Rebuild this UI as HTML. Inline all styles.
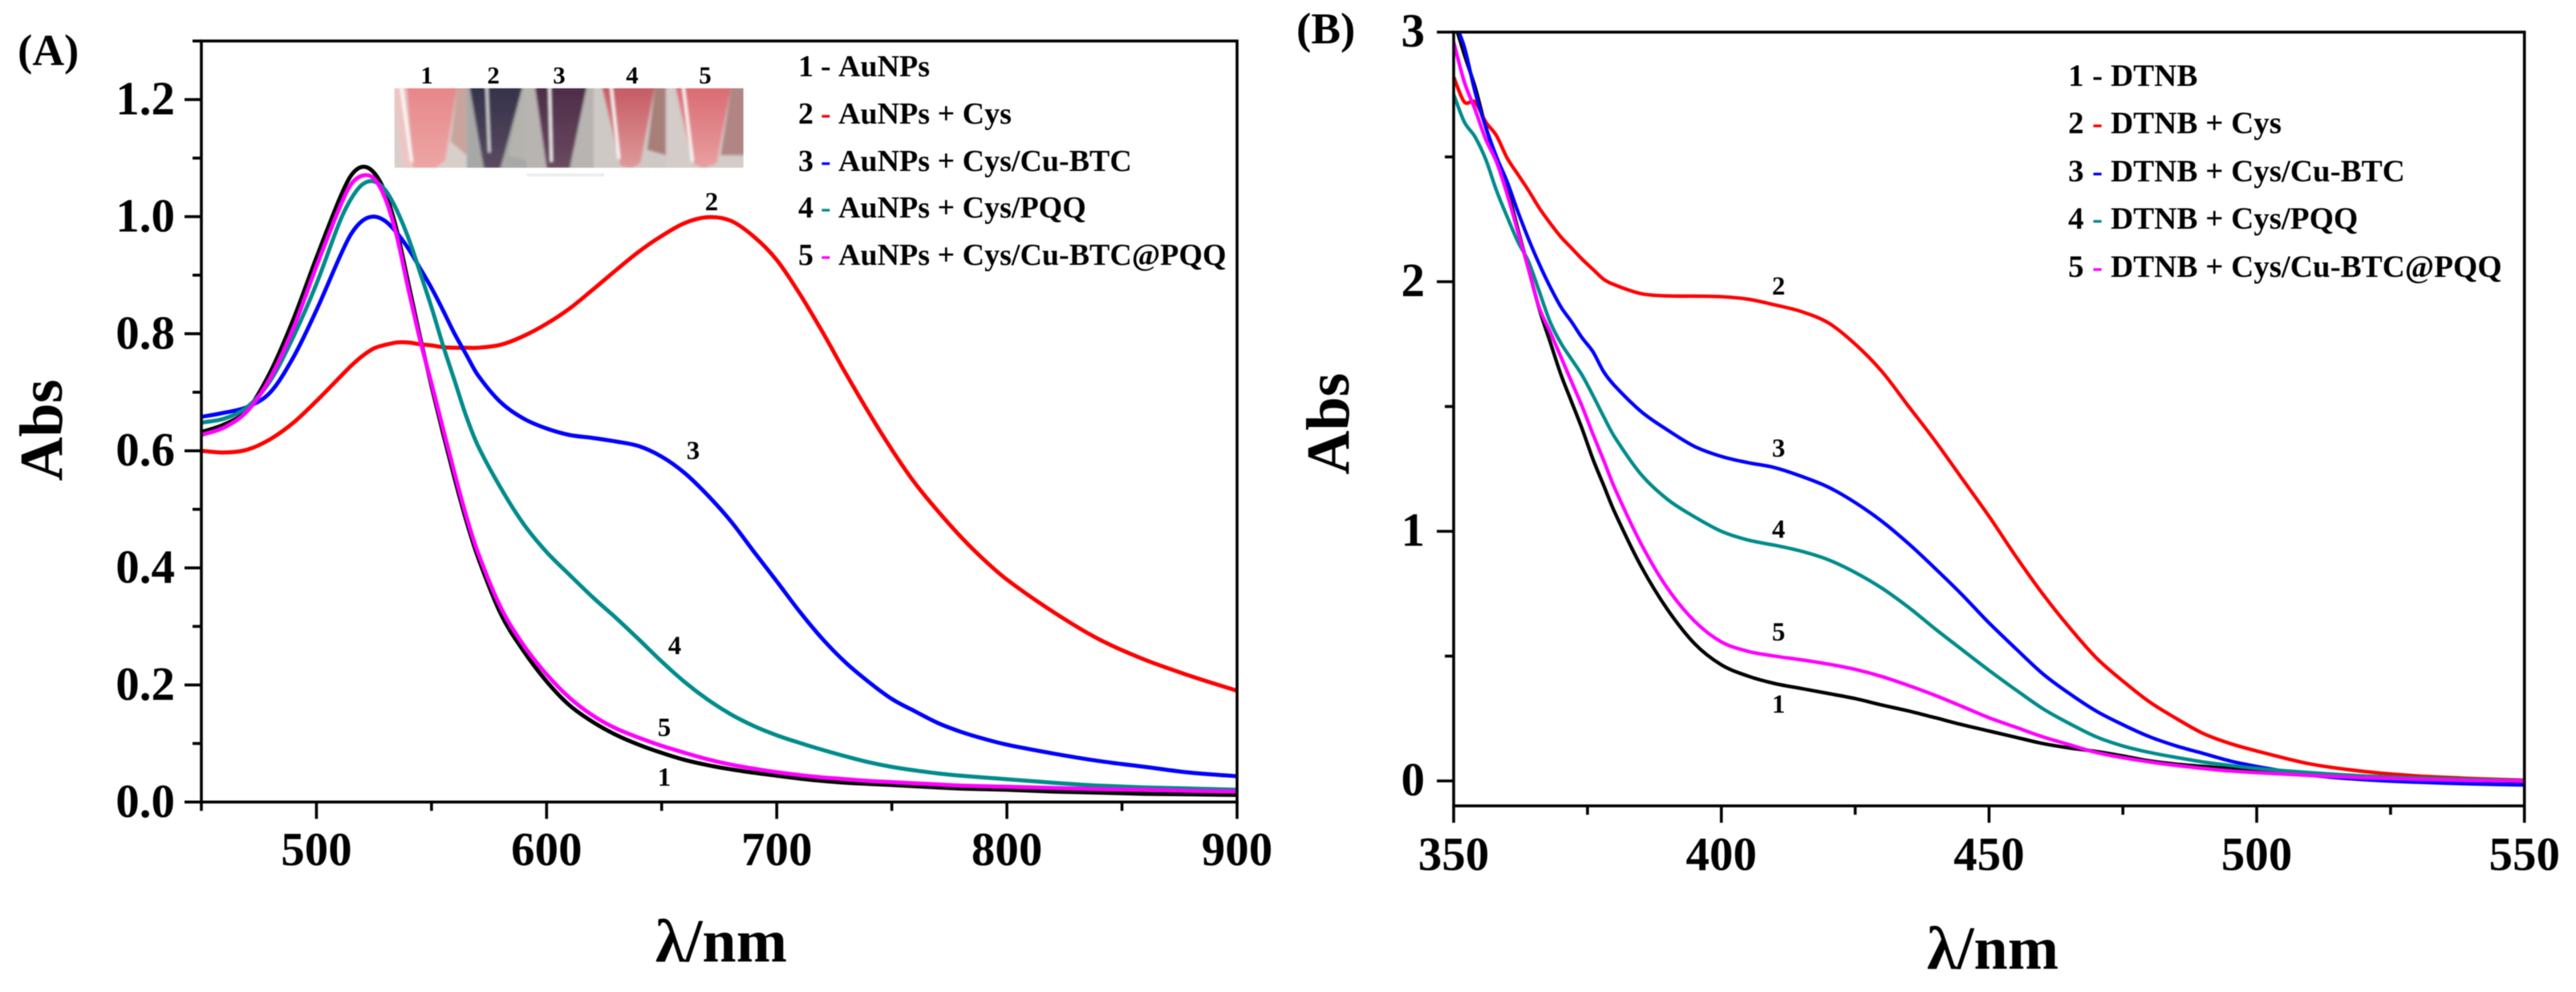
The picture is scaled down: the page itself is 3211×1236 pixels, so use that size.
<!DOCTYPE html>
<html lang="en">
<head>
<meta charset="utf-8">
<title>UV-vis absorption spectra</title>
<style>
html,body{margin:0;padding:0;background:#fff;}
body{width:3211px;height:1236px;overflow:hidden;}
svg{display:block;filter:blur(0.6px);}
text{font-family:"Liberation Serif",serif;font-weight:bold;fill:#000;}
.leg-a{font-size:38px;}
.leg-b{font-size:39px;}
.cl{font-size:33px;text-anchor:middle;}
.title{font-size:76px;}
.panel{font-size:55px;}
.tube{font-size:31px;text-anchor:middle;}
</style>
</head>
<body>
<svg id="chart" xmlns="http://www.w3.org/2000/svg" width="3211" height="1236" viewBox="0 0 3211 1236">
  <defs>
    <clipPath id="clipA"><rect x="251" y="51.7" width="1291" height="947.6"/></clipPath>
    <clipPath id="clipB"><rect x="1812" y="40" width="1334.7" height="964.3"/></clipPath>
    <clipPath id="clipInset"><rect x="155" y="150" width="1305" height="297"/></clipPath>
    <filter id="soft"><feGaussianBlur stdDeviation="5"/></filter>
    <linearGradient id="g1" x1="0" y1="0" x2="0" y2="1"><stop offset="0" stop-color="#e6868a"/><stop offset="1" stop-color="#eda6a4"/></linearGradient>
    <linearGradient id="g2" x1="0" y1="0" x2="0" y2="1"><stop offset="0" stop-color="#33324a"/><stop offset="1" stop-color="#5a4a60"/></linearGradient>
    <linearGradient id="g3" x1="0" y1="0" x2="0" y2="1"><stop offset="0" stop-color="#4d2c48"/><stop offset="1" stop-color="#6a4a60"/></linearGradient>
    <linearGradient id="g4" x1="0" y1="0" x2="0" y2="1"><stop offset="0" stop-color="#c45a63"/><stop offset="1" stop-color="#e09a9a"/></linearGradient>
    <linearGradient id="g5" x1="0" y1="0" x2="0" y2="1"><stop offset="0" stop-color="#d96a72"/><stop offset="1" stop-color="#e8a0a0"/></linearGradient>
  </defs>

  <g id="panelA">
    <text class="panel" x="22" y="81">(A)</text>
    <text class="title" text-anchor="middle" transform="translate(77 536) rotate(-90)">Abs</text>
    <text class="title" x="899" y="1198" text-anchor="middle">λ/nm</text>

    <g id="inset" transform="translate(440 60) scale(0.33333)">
      <g clip-path="url(#clipInset)">
      <g filter="url(#soft)">
        <g>
          <rect x="145" y="140" width="280" height="317" fill="#d9cfca"/>
          <polygon points="145,140 195,140 225,457 190,457" fill="#ecc6c2"/>
          <polygon points="390,140 425,140 425,400 365,350" fill="#c8a49c"/>
          <polygon points="200,140 390,140 345,420 305,450 225,450" fill="url(#g1)"/>
          <line x1="180" y1="140" x2="220" y2="425" stroke="#fff" stroke-width="10"/>
        </g>
        <g>
          <rect x="425" y="140" width="225" height="317" fill="#a8a8a8"/>
          <polygon points="635,140 650,140 650,420 580,400" fill="#b5b3ad"/>
          <polygon points="435,140 635,140 565,400 550,450 490,450 470,340" fill="url(#g2)"/>
          <line x1="500" y1="140" x2="510" y2="390" stroke="#ddd" stroke-width="9"/>
        </g>
        <g>
          <rect x="650" y="140" width="250" height="317" fill="#b8b4b2"/>
          <polygon points="680,140 875,140 810,450 725,450" fill="url(#g3)"/>
          <line x1="735" y1="140" x2="742" y2="425" stroke="#fff" stroke-width="9"/>
        </g>
        <g>
          <rect x="900" y="140" width="270" height="317" fill="#cfc9c6"/>
          <polygon points="1130,140 1170,140 1170,400 1100,380" fill="#a77f78"/>
          <polygon points="930,140 1130,140 1075,430 1040,450 1000,440" fill="url(#g4)"/>
          <line x1="965" y1="140" x2="995" y2="415" stroke="#fff" stroke-width="10"/>
        </g>
        <g>
          <rect x="1170" y="140" width="300" height="317" fill="#d3ccc9"/>
          <polygon points="1415,140 1470,140 1470,400 1375,400" fill="#b08583"/>
          <polygon points="1205,140 1415,140 1360,430 1310,450 1270,430" fill="url(#g5)"/>
          <line x1="1235" y1="140" x2="1270" y2="425" stroke="#fff" stroke-width="10"/>
        </g>
      </g>
      </g>
      <rect x="650" y="468" width="290" height="12" fill="#eee"/>
    </g>
    <text class="tube" x="532" y="104">1</text>
    <text class="tube" x="615" y="104">2</text>
    <text class="tube" x="697" y="104">3</text>
    <text class="tube" x="788" y="104">4</text>
    <text class="tube" x="879" y="104">5</text>

    <g>
      <text class="leg-a" y="95"><tspan x="995">1</tspan><tspan x="1023">-</tspan><tspan x="1045">AuNPs</tspan></text>
      <text class="leg-a" y="154"><tspan x="995">2</tspan><tspan x="1023" style="fill:#ff0000">-</tspan><tspan x="1045">AuNPs + Cys</tspan></text>
      <text class="leg-a" y="213"><tspan x="995">3</tspan><tspan x="1023" style="fill:#0000ff">-</tspan><tspan x="1045">AuNPs + Cys/Cu-BTC</tspan></text>
      <text class="leg-a" y="271"><tspan x="995">4</tspan><tspan x="1023" style="fill:#008b8b">-</tspan><tspan x="1045">AuNPs + Cys/PQQ</tspan></text>
      <text class="leg-a" y="330"><tspan x="995">5</tspan><tspan x="1023" style="fill:#ff00ff">-</tspan><tspan x="1045">AuNPs + Cys/Cu-BTC@PQQ</tspan></text>
    </g>

    <text class="cl" x="887" y="262">2</text>
    <text class="cl" x="864" y="572">3</text>
    <text class="cl" x="841" y="815">4</text>
    <text class="cl" x="828" y="917">5</text>
    <text class="cl" x="828" y="979">1</text>
  </g>

  <g id="panelB">
    <text class="panel" x="1616" y="54">(B)</text>
    <text class="title" text-anchor="middle" transform="translate(1681 528) rotate(-90)">Abs</text>
    <text class="title" x="2484" y="1207" text-anchor="middle">λ/nm</text>

    <g>
      <text class="leg-b" y="107"><tspan x="2578">1</tspan><tspan x="2608">-</tspan><tspan x="2631">DTNB</tspan></text>
      <text class="leg-b" y="166"><tspan x="2578">2</tspan><tspan x="2608" style="fill:#ff0000">-</tspan><tspan x="2631">DTNB + Cys</tspan></text>
      <text class="leg-b" y="226"><tspan x="2578">3</tspan><tspan x="2608" style="fill:#0000ff">-</tspan><tspan x="2631">DTNB + Cys/Cu-BTC</tspan></text>
      <text class="leg-b" y="285"><tspan x="2578">4</tspan><tspan x="2608" style="fill:#008b8b">-</tspan><tspan x="2631">DTNB + Cys/PQQ</tspan></text>
      <text class="leg-b" y="345"><tspan x="2578">5</tspan><tspan x="2608" style="fill:#ff00ff">-</tspan><tspan x="2631">DTNB + Cys/Cu-BTC@PQQ</tspan></text>
    </g>

    <text class="cl" x="2217" y="367">2</text>
    <text class="cl" x="2217" y="569">3</text>
    <text class="cl" x="2217" y="670">4</text>
    <text class="cl" x="2217" y="798">5</text>
    <text class="cl" x="2217" y="888">1</text>
  </g>
</svg>

<script>
// ---- Panel A data ----
const wavelengthsA = [450,460,470,480,490,500,510,515,520,525,530,535,540,545,550,555,560,565,570,580,590,600,610,620,630,640,650,660,670,680,690,700,710,720,730,740,750,760,770,780,790,800,820,840,860,880,900];
const aunps = [.632,.645,.67,.735,.825,.93,1.03,1.07,1.085,1.075,1.04,.975,.885,.795,.71,.63,.553,.482,.42,.322,.258,.206,.165,.137,.115,.098,.084,.072,.063,.056,.05,.045,.04,.036,.033,.031,.029,.027,.025,.023,.022,.021,.018,.016,.014,.013,.012];
const aunpsCys = [.60,.597,.602,.62,.648,.685,.725,.745,.762,.775,.781,.785,.785,.782,.78,.777,.776,.776,.776,.781,.796,.817,.843,.875,.908,.94,.967,.989,.999,.993,.966,.926,.868,.802,.732,.665,.602,.545,.497,.453,.414,.38,.325,.278,.243,.215,.19];
const aunpsCuBtc = [.658,.665,.675,.70,.76,.84,.93,.97,.993,1.0,.992,.972,.945,.912,.878,.84,.80,.765,.73,.683,.655,.638,.627,.622,.616,.608,.59,.562,.524,.48,.428,.377,.325,.278,.238,.205,.176,.155,.135,.12,.108,.098,.083,.07,.06,.05,.044];
const aunpsPqq = [.648,.655,.675,.72,.795,.885,.99,1.03,1.055,1.06,1.045,1.01,.963,.905,.845,.78,.72,.66,.61,.537,.475,.427,.388,.35,.315,.278,.24,.205,.175,.15,.13,.114,.101,.089,.078,.068,.06,.054,.049,.045,.042,.039,.033,.028,.025,.023,.021];
const aunpsCuBtcPqq = [.627,.64,.668,.725,.81,.915,1.015,1.055,1.07,1.065,1.03,.965,.875,.79,.715,.638,.562,.49,.428,.333,.268,.218,.178,.148,.126,.11,.096,.084,.073,.064,.057,.051,.046,.042,.039,.036,.034,.032,.03,.028,.027,.026,.024,.022,.021,.019,.018];
const xMajorA = [500,600,700,800,900];
const xMinorA = [450,550,650,750,850];
const yMajorA = [0,.2,.4,.6,.8,1.0,1.2];
const yMinorA = [.1,.3,.5,.7,.9,1.1,1.3];
const yLabelsA = ["0.0","0.2","0.4","0.6","0.8","1.0","1.2"];

// ---- Panel B data ----
const wavelengthsB = [350,352,354,356,358,360,362,364,366,368,370,372,374,376,378,380,385,390,395,400,405,410,415,420,425,430,435,440,445,450,455,460,465,470,475,480,485,490,495,500,510,520,530,540,550];
const dtnb = [3.05,2.91,2.78,2.62,2.49,2.37,2.21,2.05,1.89,1.76,1.63,1.52,1.41,1.29,1.185,1.08,.86,.685,.55,.465,.42,.39,.37,.35,.33,.304,.28,.253,.225,.20,.175,.15,.132,.118,.10,.08,.067,.058,.05,.045,.03,.015,.006,.002,-.002];
const dtnbCys = [2.82,2.72,2.72,2.64,2.585,2.495,2.43,2.365,2.295,2.235,2.18,2.135,2.09,2.05,2.01,1.988,1.952,1.943,1.942,1.94,1.93,1.907,1.88,1.835,1.75,1.64,1.50,1.36,1.21,1.06,.90,.75,.615,.494,.40,.316,.25,.19,.15,.12,.068,.038,.02,.01,.003];
const dtnbCuBtc = [3.05,2.94,2.76,2.62,2.50,2.40,2.28,2.17,2.07,1.98,1.90,1.84,1.775,1.72,1.64,1.585,1.48,1.405,1.34,1.30,1.275,1.255,1.22,1.177,1.115,1.04,.95,.85,.745,.633,.53,.43,.35,.28,.225,.177,.14,.11,.08,.058,.023,.005,-.005,-.012,-.016];
const dtnbPqq = [2.75,2.64,2.58,2.49,2.365,2.26,2.16,2.08,1.96,1.84,1.755,1.69,1.625,1.545,1.46,1.38,1.228,1.127,1.058,1.0,.965,.944,.92,.886,.835,.772,.695,.608,.525,.443,.365,.29,.23,.177,.14,.114,.094,.076,.062,.05,.033,.02,.012,.006,.001];
const dtnbCuBtcPqq = [2.96,2.80,2.69,2.57,2.48,2.35,2.20,2.05,1.895,1.80,1.70,1.60,1.50,1.39,1.285,1.177,.95,.77,.64,.557,.519,.50,.485,.468,.447,.418,.382,.342,.298,.253,.215,.177,.145,.114,.093,.076,.062,.05,.04,.033,.022,.013,.007,.002,0];
const xMajorB = [350,400,450,500,550];
const xMinorB = [375,425,475,525];
const yMajorB = [0,1,2,3];
const yMinorB = [.5,1.5,2.5];
const yLabelsB = ["0","1","2","3"];

const NS = 'http://www.w3.org/2000/svg';
const xA = v => 251 + (v - 450) / 450 * 1291;
const yA = v => 999.3 - v * 729.4;
const xB = v => 1812 + (v - 350) / 200 * 1334.7;
const yB = v => 973 - v * 311;

function node(tag, parent) {
  const n = document.createElementNS(NS, tag);
  parent.appendChild(n);
  return n;
}
function drawLine(parent, x1, y1, x2, y2) {
  const l = node('line', parent);
  l.setAttribute('x1', x1);
  l.setAttribute('y1', y1);
  l.setAttribute('x2', x2);
  l.setAttribute('y2', y2);
  l.setAttribute('stroke', '#000');
  l.setAttribute('stroke-width', '3.6');
  return l;
}
function drawLabel(parent, str, x, y, anchor) {
  const t = node('text', parent);
  t.setAttribute('x', x);
  t.setAttribute('y', y);
  t.setAttribute('text-anchor', anchor);
  t.setAttribute('font-size', '59');
  t.textContent = str;
  return t;
}
function curvePath(xs, ys, fx, fy) {
  const px = xs.map(fx), py = ys.map(fy);
  const n = px.length;
  const slope = i => {
    const a = Math.max(i - 1, 0), b = Math.min(i + 1, n - 1);
    return (py[b] - py[a]) / (px[b] - px[a]);
  };
  let d = 'M' + px[0].toFixed(1) + ' ' + py[0].toFixed(1);
  for (let i = 0; i < n - 1; i++) {
    const h = (px[i + 1] - px[i]) / 3;
    d += 'C' + (px[i] + h).toFixed(1) + ' ' + (py[i] + slope(i) * h).toFixed(1) + ' ' +
         (px[i + 1] - h).toFixed(1) + ' ' + (py[i + 1] - slope(i + 1) * h).toFixed(1) + ' ' +
         px[i + 1].toFixed(1) + ' ' + py[i + 1].toFixed(1);
  }
  return d;
}
function drawCurve(parent, xs, ys, fx, fy, color, width, clip) {
  const p = node('path', parent);
  p.setAttribute('d', curvePath(xs, ys, fx, fy));
  p.setAttribute('fill', 'none');
  p.setAttribute('stroke', color);
  p.setAttribute('stroke-width', width);
  p.setAttribute('stroke-linejoin', 'round');
  p.setAttribute('clip-path', 'url(#' + clip + ')');
  return p;
}

const panelA = document.getElementById('panelA');
const panelB = document.getElementById('panelB');
let item;

// Panel A curves
const curvesA = node('g', panelA);


item = drawCurve(curvesA, wavelengthsA, aunps, xA, yA, '#000000', 5, 'clipA');


item = drawCurve(curvesA, wavelengthsA, aunpsCys, xA, yA, '#ff0000', 5, 'clipA');


item = drawCurve(curvesA, wavelengthsA, aunpsCuBtc, xA, yA, '#0000ff', 5, 'clipA');


item = drawCurve(curvesA, wavelengthsA, aunpsPqq, xA, yA, '#008b8b', 5, 'clipA');


item = drawCurve(curvesA, wavelengthsA, aunpsCuBtcPqq, xA, yA, '#ff00ff', 5, 'clipA');



// Panel A axes
const axesA = node('g', panelA);


item = node('rect', axesA);
item.setAttribute('x', xA(450));
item.setAttribute('y', yA(1.3));
item.setAttribute('width', xA(900) - xA(450));
item.setAttribute('height', yA(0) - yA(1.3));
item.setAttribute('fill', 'none');
item.setAttribute('stroke', '#000');
item.setAttribute('stroke-width', '3.6');


xMajorA.forEach(v => {
  const t = drawLine(axesA, xA(v), yA(0), xA(v), yA(0) + 21);
  
  
  const l = drawLabel(axesA, String(v), xA(v), 1078, 'middle');
  
  
});
xMinorA.forEach(v => {
  const t = drawLine(axesA, xA(v), yA(0), xA(v), yA(0) + 11);
  
  
});
yMajorA.forEach((v, i) => {
  const t = drawLine(axesA, xA(450) - 21, yA(v), xA(450), yA(v));
  
  
  const l = drawLabel(axesA, yLabelsA[i], 218, yA(v) + 18.5, 'end');
  
  
});
yMinorA.forEach(v => {
  const t = drawLine(axesA, xA(450) - 11, yA(v), xA(450), yA(v));
  
  
});

// Panel B curves
const curvesB = node('g', panelB);


item = drawCurve(curvesB, wavelengthsB, dtnb, xB, yB, '#000000', 4.4, 'clipB');


item = drawCurve(curvesB, wavelengthsB, dtnbCys, xB, yB, '#ff0000', 4.4, 'clipB');


item = drawCurve(curvesB, wavelengthsB, dtnbCuBtc, xB, yB, '#0000ff', 4.4, 'clipB');


item = drawCurve(curvesB, wavelengthsB, dtnbPqq, xB, yB, '#008b8b', 4.4, 'clipB');


item = drawCurve(curvesB, wavelengthsB, dtnbCuBtcPqq, xB, yB, '#ff00ff', 4.4, 'clipB');



// Panel B axes
const axesB = node('g', panelB);


item = node('rect', axesB);
item.setAttribute('x', xB(350));
item.setAttribute('y', yB(3));
item.setAttribute('width', xB(550) - xB(350));
item.setAttribute('height', yB(-0.1) - yB(3));
item.setAttribute('fill', 'none');
item.setAttribute('stroke', '#000');
item.setAttribute('stroke-width', '3.6');


xMajorB.forEach(v => {
  const t = drawLine(axesB, xB(v), yB(-0.1), xB(v), yB(-0.1) + 21);
  
  
  const l = drawLabel(axesB, String(v), xB(v), 1084, 'middle');
  
  
});
xMinorB.forEach(v => {
  const t = drawLine(axesB, xB(v), yB(-0.1), xB(v), yB(-0.1) + 11);
  
  
});
yMajorB.forEach((v, i) => {
  const t = drawLine(axesB, xB(350) - 21, yB(v), xB(350), yB(v));
  
  
  const l = drawLabel(axesB, yLabelsB[i], 1776, yB(v) + 18, 'end');
  
  
});
yMinorB.forEach(v => {
  const t = drawLine(axesB, xB(350) - 11, yB(v), xB(350), yB(v));
  
  
});
</script>
</body>
</html>
